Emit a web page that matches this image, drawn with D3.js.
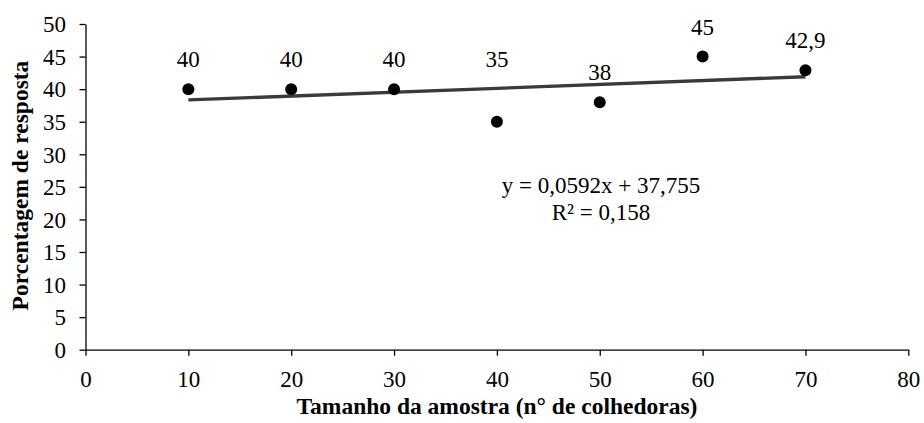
<!DOCTYPE html>
<html>
<head>
<meta charset="utf-8">
<script src="https://cdn.jsdelivr.net/npm/d3@7"></script>
<style>
  html, body { margin: 0; padding: 0; background: #fff; }
</style>
</head>
<body>
<svg id="chart" width="924" height="423"></svg>
<script>
// Sample size (number of harvesters) and response percentage
const sampleSizes = [10, 20, 30, 40, 50, 60, 70];
const responses = [40, 40, 40, 35, 38, 45, 42.9];
const valueLabels = ["40", "40", "40", "35", "38", "45", "42,9"];
const xTicks = [0, 10, 20, 30, 40, 50, 60, 70, 80];
const yTicks = [0, 5, 10, 15, 20, 25, 30, 35, 40, 45, 50];
// Linear trend fitted to the series
const trendSlope = 0.0592;
const trendIntercept = 37.755;
const equationLines = ["y = 0,0592x + 37,755", "R² = 0,158"];

const FONT = "Liberation Serif";
const NUM_SIZE = 23;
const TITLE_SIZE = 23.5;

const svg = d3.select("#chart");
const x = d3.scaleLinear().domain([0, 80]).range([85.5, 908.3]);
const y = d3.scaleLinear().domain([0, 50]).range([349.7, 24]);

// Axes
const xAxis = svg.append("g")
  .attr("transform", `translate(0,${y(0)})`)
  .call(d3.axisBottom(x).tickValues(xTicks).tickSize(6).tickSizeOuter(0));
const yAxis = svg.append("g")
  .attr("transform", `translate(${x(0)},0)`)
  .call(d3.axisLeft(y).tickValues(yTicks).tickSize(6).tickSizeOuter(0));

[xAxis, yAxis].forEach(g => {
  g.attr("font-family", null).attr("font-size", null);
  g.select(".domain").attr("stroke", "#000").attr("stroke-width", 1.3);
  g.selectAll(".tick line").attr("stroke", "#000").attr("stroke-width", 1.3);
  g.selectAll(".tick text")
    .attr("fill", "#000")
    .attr("font-family", FONT)
    .attr("font-size", NUM_SIZE);
});
xAxis.selectAll(".tick text").attr("y", 37.5).attr("dy", 0);
yAxis.selectAll(".tick text").attr("x", -19.5).attr("dy", "0.34em");

// Trend line
const xMin = d3.min(sampleSizes), xMax = d3.max(sampleSizes);
svg.append("line")
  .attr("x1", x(xMin)).attr("y1", y(trendSlope * xMin + trendIntercept))
  .attr("x2", x(xMax)).attr("y2", y(trendSlope * xMax + trendIntercept))
  .attr("stroke", "#3a3a3a")
  .attr("stroke-width", 3.4);

// Points
svg.append("g").selectAll("circle")
  .data(sampleSizes)
  .join("circle")
  .attr("cx", d => x(d))
  .attr("cy", (d, i) => y(responses[i]))
  .attr("r", 6)
  .attr("fill", "#000");

// Value labels sit above their points; the one under the trend line is lifted clear of it
const labelLift = i => (i === 3 ? 54.5 : 22);
svg.append("g").selectAll("text")
  .data(sampleSizes)
  .join("text")
  .attr("x", d => x(d))
  .attr("y", (d, i) => y(responses[i]) - labelLift(i))
  .attr("text-anchor", "middle")
  .attr("font-family", FONT)
  .attr("font-size", NUM_SIZE)
  .attr("fill", "#000")
  .text((d, i) => valueLabels[i]);

// Trend equation
svg.append("g").selectAll("text")
  .data(equationLines)
  .join("text")
  .attr("x", 601)
  .attr("y", (d, i) => 193 + i * 27)
  .attr("text-anchor", "middle")
  .attr("font-family", FONT)
  .attr("font-size", NUM_SIZE)
  .attr("fill", "#000")
  .text(d => d);

// Axis titles
svg.append("text")
  .attr("x", 497)
  .attr("y", 414)
  .attr("text-anchor", "middle")
  .attr("font-family", FONT)
  .attr("font-size", TITLE_SIZE)
  .attr("font-weight", "bold")
  .attr("fill", "#000")
  .text("Tamanho da amostra (n° de colhedoras)");

svg.append("text")
  .attr("transform", "translate(28,185.5) rotate(-90)")
  .attr("text-anchor", "middle")
  .attr("font-family", FONT)
  .attr("font-size", TITLE_SIZE)
  .attr("font-weight", "bold")
  .attr("fill", "#000")
  .text("Porcentagem de resposta");
</script>
</body>
</html>
